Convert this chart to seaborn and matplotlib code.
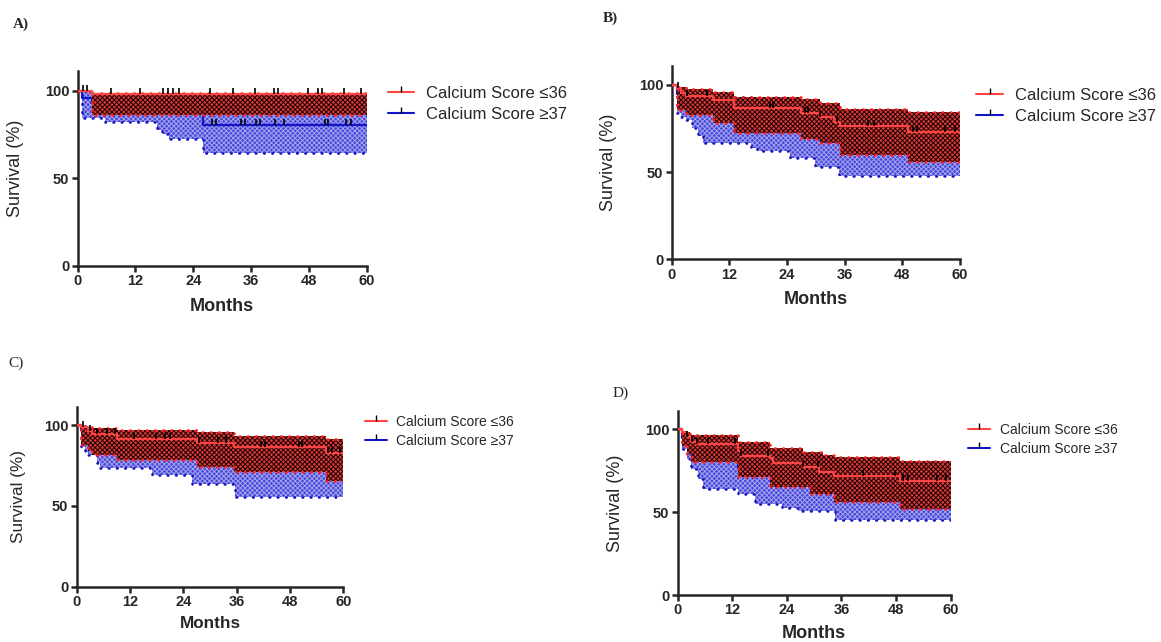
import numpy as np
import pandas as pd
import seaborn as sns
import matplotlib.pyplot as plt
from matplotlib.lines import Line2D

sns.set_style("ticks")
plt.rcParams['font.family'] = ['Liberation Sans', 'DejaVu Sans']
plt.rcParams['hatch.linewidth'] = 0.7

# ---- panel A ----
a_red_t = [0, 3]
a_red_s = [100, 98]
a_red_lo = [100, 86]
a_red_hi = [100, 98.6]
a_red_cens = [1.1, 1.9, 7, 12.9, 17.7, 18.7, 19.8, 21, 27.4, 32.2, 36.9, 40.7, 41.6,
              47.8, 49.9, 50.7, 55.2, 58.9]
a_blue_t = [0, 1, 3, 5.7, 16.5, 17.5, 19, 26]
a_blue_s = [100, 96, 93, 93, 93, 89, 89, 80.5]
a_blue_lo = [100, 84.6, 84.6, 82.3, 77.5, 75, 72.4, 64.6]
a_blue_hi = [100, 100, 97.5, 97.5, 97, 95, 95, 91]
a_blue_cens = [27.8, 28.8, 34, 34.8, 37.1, 37.8, 40.9, 42.8, 51.3, 52, 55.8, 56.8]

# ---- panel B ----
b_red_t = [0, 1, 2, 3, 8.5, 13, 27, 30.8, 33.8, 35, 49.2]
b_red_s = [100, 98, 95.5, 93.5, 91.3, 86.6, 83.7, 81.4, 79, 76.5, 72.9]
b_red_lo = [100, 85.6, 85.6, 82.8, 78.4, 72.3, 68.8, 66.5, 66.5, 59.8, 56]
b_red_hi = [100, 98.7, 98.7, 97.6, 96.2, 93.3, 92, 89.5, 89.5, 86.4, 84.5]
b_red_cens = [1.4, 3.1, 7.3, 20.5, 21.1, 27.7, 28.3, 30.9, 34.3, 40.9, 42, 50.3, 51, 56.9, 59]
b_blue_t = [0, 1, 2, 3, 4.3, 5.5, 6.6, 16.5, 17.7, 24.7, 29.9, 34.8]
b_blue_s = [100, 95, 93, 91, 89, 87, 84, 81, 80, 76, 72, 67]
b_blue_lo = [100, 83.8, 81.5, 80, 75.4, 71, 66.5, 63.7, 62.3, 57.9, 53.1, 47.8]
b_blue_hi = [100, 98.5, 98, 97, 96, 95, 93, 90, 89, 85, 82, 77]
b_blue_cens = []

# ---- panel C ----
c_red_t = [0, 1, 2.5, 3.5, 9, 27, 35.4, 56]
c_red_s = [100, 98.5, 96, 94.4, 91.6, 88.8, 86.1, 82.7]
c_red_lo = [100, 87.6, 84, 81.4, 78.4, 74.2, 71.1, 65.4]
c_red_hi = [100, 99.4, 98.6, 97.9, 96.9, 95.5, 93.4, 91.5]
c_red_cens = [1.5, 3, 4.5, 6.8, 8.6, 12.8, 17.9, 19.9, 21, 27.5, 31.9, 33.7, 41.5, 42.3,
              50, 50.8, 56.5, 57.4, 59.2]
c_blue_t = [0, 1, 1.9, 2.6, 4.5, 5.3, 17, 26, 35.6, 56]
c_blue_s = [100, 97, 94, 92, 89, 87, 85, 82, 78.5, 75.5]
c_blue_lo = [100, 86.6, 83.5, 81.4, 76.3, 73.3, 69.2, 63.6, 55.6, 55.6]
c_blue_hi = [100, 99.3, 98.5, 97.8, 96.5, 95, 93, 90, 88, 85]
c_blue_cens = []

# ---- panel D ----
d_red_t = [0, 0.9, 2, 2.7, 3, 4.2, 13.2, 14, 20.4, 21, 27.5, 29, 31, 32, 34.4, 48.9]
d_red_s = [100, 98.6, 95.6, 95.6, 92.6, 91.2, 87.1, 84.2, 82.5, 79.4, 77.3, 77.3, 74.3,
           74.3, 72.1, 68.8]
d_red_lo = [100, 90, 85, 85, 80, 80, 71, 71, 65.3, 65.3, 65.3, 60.8, 60.8, 60.8, 56, 52.2]
d_red_hi = [100, 98.6, 98.6, 96.6, 96.6, 96.6, 92.6, 92.6, 88.5, 88.5, 86.5, 86.5, 86.5,
            84.5, 83.5, 80.9]
d_red_cens = [2, 3.1, 4.2, 6.7, 12.6, 14, 19.9, 27.6, 30.9, 40.8, 47.8, 49.6, 50.7, 56.9, 59]
d_blue_t = [0, 1, 2, 3, 4.5, 5.5, 13.2, 17, 23, 26.5, 34.6]
d_blue_s = [100, 95, 92, 88, 85, 82.5, 76, 73, 69, 67, 64.5]
d_blue_lo = [100, 88, 82, 76, 70, 64, 60.8, 55, 52.5, 50.5, 45.2]
d_blue_hi = [100, 98.5, 96.5, 96, 95, 94, 91, 88, 86, 84, 80]
d_blue_cens = []

labels = ['Calcium Score \u226436', 'Calcium Score \u226537']
RED = '#ff4444'
BLUE = '#1414c8'


def ext(t, v):
    return np.r_[t, 60], np.r_[v, v[-1]]


def draw_group(ax, t, s, lo, hi, cens, line_col, face, hatch_col, dot_col, z):
    tt, ss = ext(t, s)
    _, ll = ext(t, lo)
    _, hh = ext(t, hi)
    ax.fill_between(tt, ll, hh, step='post', facecolor=face, edgecolor=hatch_col,
                    hatch='xxxxxxx', linewidth=0, zorder=z)
    for edge in (ll, hh):
        ax.step(tt, edge, where='post', color=dot_col, lw=1.8, ls=(0, (0.3, 3.0)),
                dash_capstyle='round', zorder=z + 0.1)
    sns.lineplot(x=tt, y=ss, drawstyle='steps-post', color=line_col, lw=1.6, ax=ax,
                 zorder=z + 0.2)
    if len(cens):
        idx = np.searchsorted(t, cens, side='right') - 1
        cy = np.array(s)[idx]
        ax.plot(cens, cy, ls='none', marker=2, ms=4.5, mew=1.2, color='black',
                zorder=z + 0.3)


fig = plt.figure(figsize=(11.61, 6.42), dpi=100)

panels = [
    dict(rect=[0.0669, 0.5861, 0.2489, 0.3027], red=(a_red_t, a_red_s, a_red_lo, a_red_hi, a_red_cens),
         blue=(a_blue_t, a_blue_s, a_blue_lo, a_blue_hi, a_blue_cens),
         tag='A)', tagpos=(0.011, 0.972), tagw='bold', ylab=-0.186, xlab=-0.165, fs=13,
         leg=(0.334, 0.866), lfs=12),
    dict(rect=[0.5786, 0.5961, 0.2483, 0.3014], red=(b_red_t, b_red_s, b_red_lo, b_red_hi, b_red_cens),
         blue=(b_blue_t, b_blue_s, b_blue_lo, b_blue_hi, b_blue_cens),
         tag='B)', tagpos=(0.519, 0.982), tagw='bold', ylab=-0.189, xlab=-0.164, fs=13,
         leg=(0.841, 0.863), lfs=12),
    dict(rect=[0.0661, 0.0861, 0.2296, 0.2796], red=(c_red_t, c_red_s, c_red_lo, c_red_hi, c_red_cens),
         blue=(c_blue_t, c_blue_s, c_blue_lo, c_blue_hi, c_blue_cens),
         tag='C)', tagpos=(0.0072, 0.444), tagw='normal', ylab=-0.19, xlab=-0.163, fs=12.3,
         leg=(0.314, 0.354), lfs=10),
    dict(rect=[0.5837, 0.0732, 0.2351, 0.2864], red=(d_red_t, d_red_s, d_red_lo, d_red_hi, d_red_cens),
         blue=(d_blue_t, d_blue_s, d_blue_lo, d_blue_hi, d_blue_cens),
         tag='D)', tagpos=(0.528, 0.398), tagw='normal', ylab=-0.196, xlab=-0.163, fs=13,
         leg=(0.834, 0.341), lfs=10),
]

for p in panels:
    ax = fig.add_axes(p['rect'])
    draw_group(ax, *p['blue'], BLUE, '#4646dc', '#a4a4ec', '#1010c0', 2)
    draw_group(ax, *p['red'], RED, '#d43c3c', '#240000', '#ff2020', 3)
    ax.set_xlim(0, 60)
    ax.set_ylim(0, 111)
    ax.set_xticks([0, 12, 24, 36, 48, 60])
    ax.set_yticks([0, 50, 100])
    sns.despine(ax=ax)
    for sp in ('left', 'bottom'):
        ax.spines[sp].set_linewidth(1.8)
    ax.tick_params(axis='both', length=4, width=1.8, labelsize=10.5, pad=2)
    for lab in ax.get_xticklabels() + ax.get_yticklabels():
        lab.set_fontweight('bold')
    ax.set_xlabel('Months', fontsize=p['fs'], fontweight='bold')
    ax.set_ylabel('Survival (%)', fontsize=p['fs'])
    ax.xaxis.set_label_coords(0.5, p['xlab'])
    ax.yaxis.set_label_coords(p['ylab'], 0.5)
    fig.text(p['tagpos'][0], p['tagpos'][1], p['tag'], ha='left', va='top',
             family='Liberation Serif', fontweight=p['tagw'], fontsize=11)
    handles = [Line2D([0], [0], color=RED, lw=1.5, marker=2, mec='black', ms=4, mew=1),
               Line2D([0], [0], color=BLUE, lw=1.5, marker=2, mec='black', ms=4, mew=1)]
    fig.legend(handles, labels, loc='upper left', bbox_to_anchor=p['leg'], frameon=False,
               fontsize=p['lfs'], handlelength=1.6, handletextpad=0.7, labelspacing=0.35,
               borderpad=0, borderaxespad=0, numpoints=1)

fig.savefig('out.png', dpi=100)
